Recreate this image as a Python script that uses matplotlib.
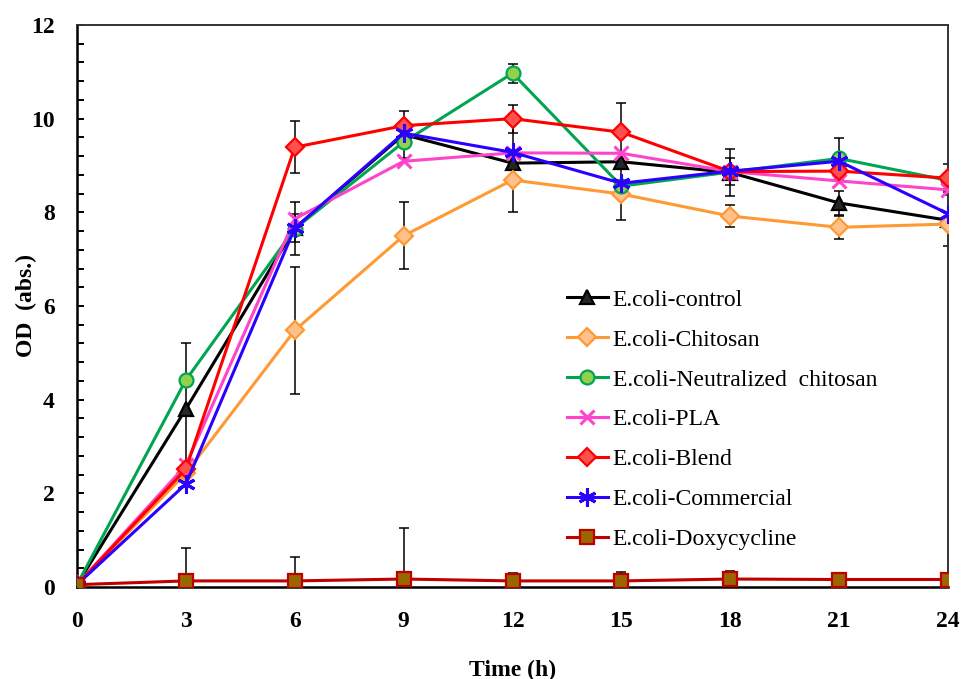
import matplotlib
matplotlib.use("Agg")
import matplotlib.pyplot as plt
import numpy as np
from matplotlib.ticker import MultipleLocator

# Sampling times (h)
time_h = [0, 3, 6, 9, 12, 15, 18, 21, 24]

# Optical density readings
od_control = [0.05, 3.80, 7.66, 9.66, 9.05, 9.08, 8.85, 8.20, 7.83]
od_chitosan = [0.05, 2.43, 5.48, 7.50, 8.69, 8.39, 7.92, 7.68, 7.75]
od_neutralized = [0.05, 4.42, 7.65, 9.50, 10.97, 8.56, 8.86, 9.15, 8.68]
od_pla = [0.05, 2.60, 7.86, 9.09, 9.27, 9.26, 8.87, 8.67, 8.48]
od_blend = [0.05, 2.52, 9.39, 9.85, 10.00, 9.71, 8.87, 8.88, 8.73]
od_commercial = [0.05, 2.20, 7.66, 9.69, 9.28, 8.62, 8.88, 9.09, 7.97]
od_doxy = [0.05, 0.13, 0.13, 0.17, 0.13, 0.13, 0.17, 0.16, 0.16]

# Standard deviations (0 = no bar drawn)
sd_control = [0, 1.40, 0.57, 0.50, 1.05, 1.25, 0.50, 0.26, 0.55]
sd_chitosan = [0, 0, 1.35, 0.72, 0, 0, 0.23, 0.25, 0]
sd_neutralized = [0, 0, 0, 0, 0.20, 0, 0, 0.43, 0]
sd_pla = [0, 0, 0, 0, 0, 0, 0, 0, 0]
sd_blend = [0, 0, 0.55, 0, 0.30, 0, 0.28, 0, 0.30]
sd_commercial = [0, 0, 0.30, 0, 0, 0, 0, 0, 0]
sd_doxy = [0, 0.70, 0.50, 1.10, 0.17, 0.20, 0.18, 0, 0]

labels = ["E.coli-control", "E.coli-Chitosan", "E.coli-Neutralized  chitosan",
          "E.coli-PLA", "E.coli-Blend", "E.coli-Commercial", "E.coli-Doxycycline"]

series = [od_control, od_chitosan, od_neutralized, od_pla, od_blend, od_commercial, od_doxy]
errors = [sd_control, sd_chitosan, sd_neutralized, sd_pla, sd_blend, sd_commercial, sd_doxy]

styles = [
    dict(color="black", marker="^", mfc="#262626", mec="black", ms=10),
    dict(color="#FF9933", marker="D", mfc="#FFC08C", mec="#FF9933", ms=9.5),
    dict(color="#00A550", marker="o", mfc="#92D050", mec="#00A550", ms=10),
    dict(color="#FF44CC", marker="x", mfc="#FF44CC", mec="#FF44CC", ms=10),
    dict(color="#FF0000", marker="D", mfc="#FF5050", mec="#FF0000", ms=9.5),
    dict(color="#2A00FF", marker=(6, 2, 0), mfc="#2A00FF", mec="#2A00FF", ms=13),
    dict(color="#C00000", marker="s", mfc="#996600", mec="#C00000", ms=9.5),
]

plt.rcParams["font.family"] = ["Liberation Serif", "DejaVu Serif"]

fig = plt.figure(figsize=(9.65, 6.79), dpi=100)
ax = fig.add_axes([0.0798, 0.1355, 0.9026, 0.8277])

x = np.array(time_h, dtype=float)

# error bars beneath the data lines
for y, e in zip(series, errors):
    y = np.array(y)
    e = np.array(e)
    m = e > 0
    if m.any():
        ax.errorbar(x[m], y[m], yerr=e[m], fmt="none", ecolor="black",
                    elinewidth=1.1, capsize=3.5, capthick=1.1, zorder=1)

for i, (y, lab, st) in enumerate(zip(series, labels, styles)):
    mew = 2.2 if st["marker"] in ("x", (6, 2, 0)) else 1.6
    ax.plot(x, y, label=lab, lw=2.2, mew=mew, zorder=3 + i, **st)

ax.set_xlim(0, 24)
ax.set_ylim(0, 12)
ax.set_xticks(time_h)
ax.yaxis.set_major_locator(MultipleLocator(2))
ax.yaxis.set_minor_locator(MultipleLocator(0.4))

ax.tick_params(axis="x", length=0, pad=17, labelsize=17)
ax.tick_params(axis="y", which="major", direction="in", length=5, width=1.4,
               pad=16, labelsize=17)
ax.tick_params(axis="y", which="minor", direction="in", length=5, width=1.4)
for lab in ax.get_xticklabels() + ax.get_yticklabels():
    lab.set_fontweight("bold")

for side in ("left", "bottom"):
    ax.spines[side].set_linewidth(1.8)
    ax.spines[side].set_color("black")
for side in ("top", "right"):
    ax.spines[side].set_linewidth(1.4)
    ax.spines[side].set_color("#333333")

ax.set_xlabel("Time (h)", fontsize=17, fontweight="bold", labelpad=20)
ax.set_ylabel("OD  (abs.)", fontsize=17, fontweight="bold", labelpad=-4)

ax.legend(loc="upper left", bbox_to_anchor=(0.562, 0.530), frameon=False,
          fontsize=17, handlelength=1.75, handletextpad=0.2, labelspacing=0.78,
          borderpad=0, borderaxespad=0)

fig.savefig("out.png", dpi=100)
